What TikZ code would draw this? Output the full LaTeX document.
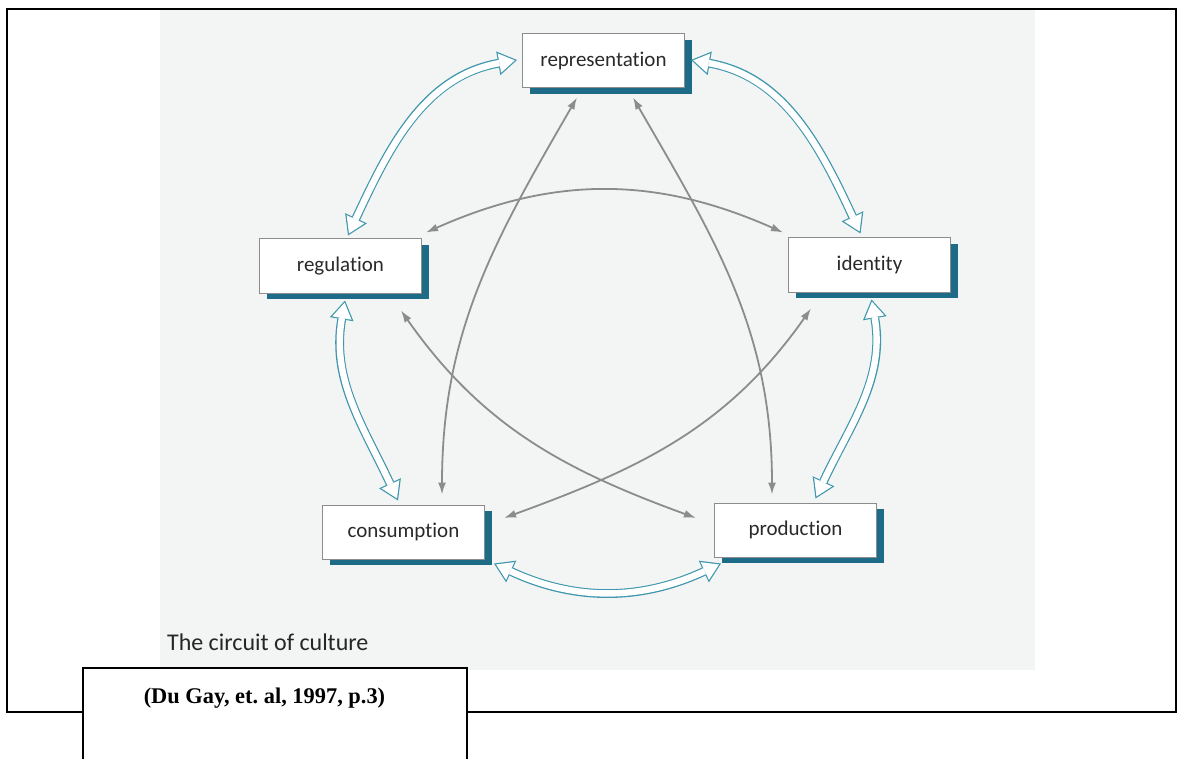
\documentclass[tikz,border=0pt]{standalone}
\usepackage{fontspec}
\setmainfont{Liberation Serif}
\newfontfamily\gillfont[Ligatures={NoCommon,NoContextual}]{Carlito}
\usepackage{xcolor}
\usetikzlibrary{arrows.meta,calc,shadows}
\definecolor{scangray}{HTML}{F3F4F4}
\definecolor{boxteal}{HTML}{1D6B87}
\definecolor{arrowteal}{HTML}{3E97AD}
\definecolor{linkgray}{HTML}{8C8C8C}
\definecolor{labelgray}{HTML}{2A2A2A}
\frenchspacing

\begin{document}
\begin{tikzpicture}[x=0.5pt, y=0.5pt,
    stage/.style={draw=gray!90, line width=0.5pt, fill=white, minimum width=81pt, minimum height=27pt, inner sep=0pt,
      font=\gillfont\fontsize{10.5}{12}\selectfont, text=labelgray,
      drop shadow={shadow xshift=3.5pt, shadow yshift=-3pt, fill=boxteal, opacity=1}},
    link/.style={draw=linkgray, line width=0.9pt, {Latex[length=6pt,width=4pt]}-{Latex[length=6pt,width=4pt]}},
    flow/.style={draw=arrowteal, line width=4.4pt,
      {Triangle[width=12pt,length=9.5pt,line width=0pt]}-{Triangle[width=12pt,length=9.5pt,line width=0pt]},
      postaction={draw=white, line width=3.2pt, shorten <=1.12pt, shorten >=1.12pt,
        {Triangle[width=9.8pt,length=7.8pt,line width=0pt]}-{Triangle[width=9.8pt,length=7.8pt,line width=0pt]}}}]
    \useasboundingbox (0,0) rectangle (1177,-759);
    \fill[scangray] (160,-10) rectangle (1035,-670);
    \draw[line width=1pt] (83,-712) -- (7,-712) -- (7,-9) -- (1176,-9) -- (1176,-712) -- (467,-712);

    \node[stage] (rep) at (603.5,-61) {representation};
    \node[stage] (reg) at (340.5,-266) {regulation};
    \node[stage] (idn) at (869.5,-265) {identity};
    \node[stage] (cons) at (403.5,-532) {consumption};
    \node[stage] (prod) at (795.5,-530) {production};

    \draw[flow] ($(rep.west)+(-5,1)$) to[out=190, in=65] ($(reg.north)+(7.5,3)$);
    \draw[flow] ($(rep.east)+(6,1)$) to[out=-10, in=115] ($(idn.north)+(-9,4)$);
    \draw[flow] ($(idn.south)+(2,-7)$) to[out=-80, in=65] ($(prod.north)+(20,4)$);
    \draw[flow] ($(prod.south west)+(7,-6)$) to[out=-155, in=-25] ($(cons.south east)+(9,-4)$);
    \draw[flow] ($(reg.south)+(4.5,-7)$) to[out=-100, in=115] ($(cons.north)+(-5.5,4)$);

    \draw[link] ($(rep.south)+(-26.5,-9)$) to[out=-120, in=90] ($(cons.north)+(38.5,10)$);
    \draw[link] ($(rep.south)+(29.5,-9)$) to[out=-60, in=90] ($(prod.north)+(-23.5,8)$);
    \draw[link] ($(reg.north east)+(4,6)$) to[out=24, in=156] ($(idn.north west)+(-5,5)$);
    \draw[link] ($(reg.south east)+(-21,-17)$) to[out=-55, in=160] ($(prod.west)+(-18,12)$);
    \draw[link] ($(idn.south west)+(23,-16)$) to[out=-125, in=20] ($(cons.east)+(19,14)$);

    \node[anchor=base west, font=\gillfont\fontsize{12}{14}\selectfont, text=black!85] (title) at (160,-650) {The circuit of culture};
    \draw[line width=1pt, fill=white] (83,-760) -- (83,-668) -- (467,-668) -- (467,-760);
    \node[anchor=base, font=\bfseries\fontsize{11.2}{13}\selectfont] (cite) at (264.5,-703) {(Du Gay, et. al, 1997, p.3)};
\end{tikzpicture}
\end{document}
